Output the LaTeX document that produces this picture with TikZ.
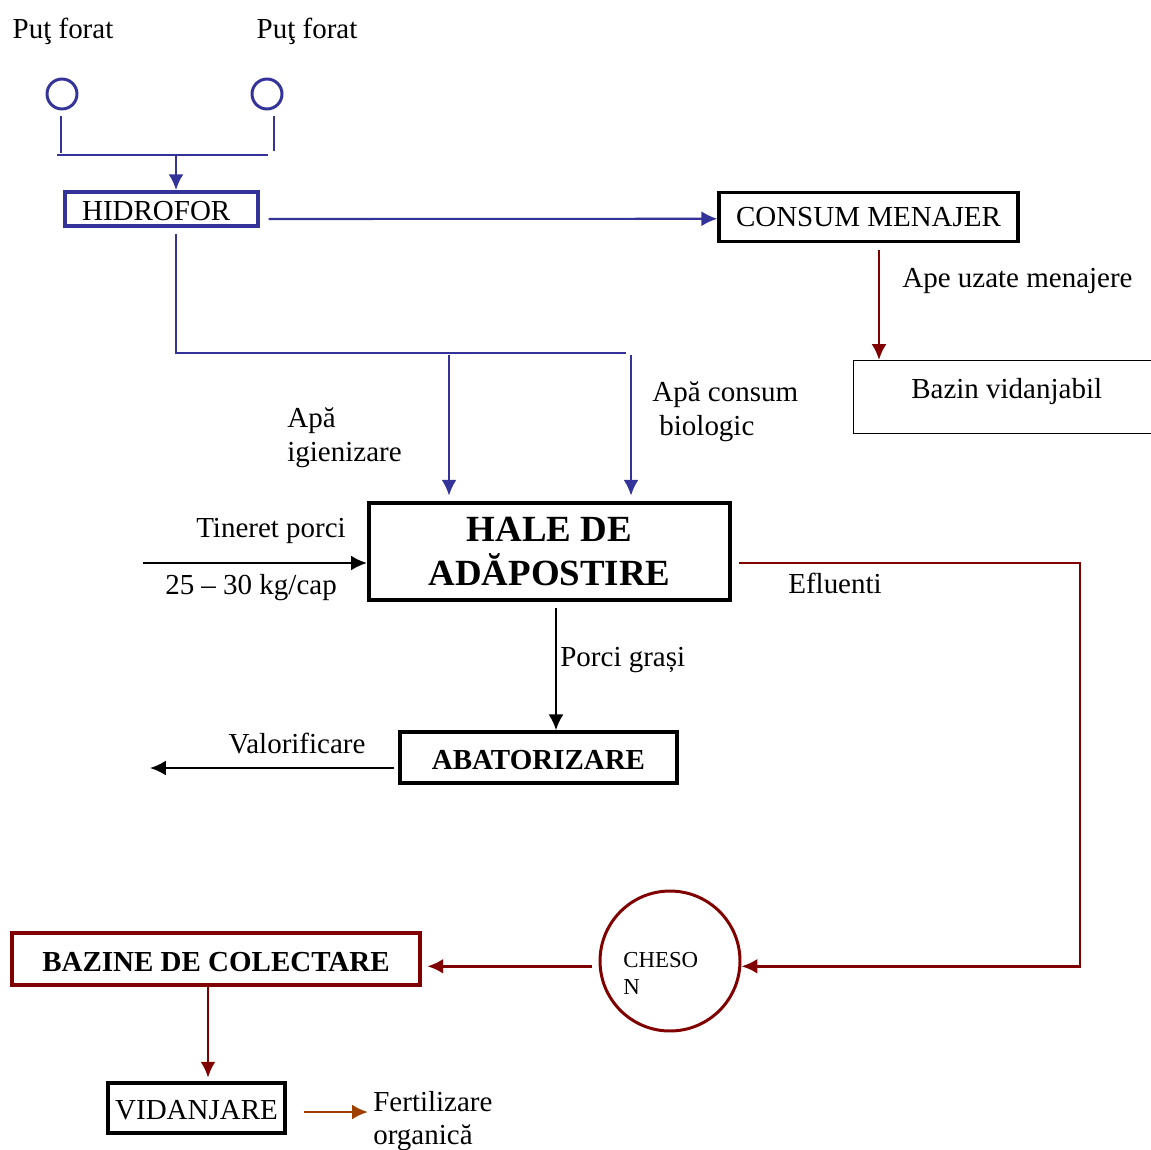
\documentclass[tikz,border=0pt]{standalone}
\usepackage{fontspec}
\setmainfont{Liberation Serif}
\usetikzlibrary{arrows.meta,positioning}
\definecolor{albastru}{RGB}{51,51,153}
\definecolor{rosu}{RGB}{128,0,0}
\definecolor{maro}{RGB}{160,64,0}
\tikzset{
  text16/.style={font=\fontsize{16.5}{19}\selectfont, inner sep=0pt, yshift=-1.7pt},
  cutie/.style={draw, line width=2pt, inner sep=0pt, font=\fontsize{16.5}{19}\selectfont},
  cutiebold/.style={cutie, font=\fontsize{16.5}{19}\selectfont\bfseries},
  put/.style={circle, draw=albastru, line width=1.7pt, minimum size=0.6cm, inner sep=0pt},
  teava/.style={albastru, line width=1.2pt},
  flux/.style={line width=1.3pt},
  fluxrosu/.style={rosu, line width=1.6pt},
}
\begin{document}
\begin{tikzpicture}[x=0.02cm, y=-0.02cm, >={Latex[length=9pt,width=8.5pt]}]
\useasboundingbox (0,0) rectangle (1151,1149);

% alimentare cu apa
\node[text16] (put1) at (63,28) {Puţ forat};
\node[text16] (put2) at (307,28) {Puţ forat};
\node[put] (c1) at (62,94) {};
\node[put] (c2) at (267,94) {};
\coordinate (colst) at (57,155);
\coordinate (coldr) at (268,155);
\coordinate (colm) at (176,155);
\draw[teava, line width=1.7pt] (c1.south) ++(-1,6) -- ++(0,37);
\draw[teava, line width=1.7pt] (c2.south) ++(7,6) -- ++(0,35);
\draw[teava, line width=1.7pt] (colst) -- (coldr);

\node[cutie, draw=albastru, minimum width=3.86cm, minimum height=0.68cm] (hidrofor) at (161.5,209) {\hspace*{-6pt}\raisebox{-1pt}[\height][\depth]{HIDROFOR}};
\draw[teava, line width=1.7pt, ->] (colm) -- (colm |- hidrofor.north);

\node[cutie, minimum width=5.98cm, minimum height=0.98cm] (consum) at (868.5,217) {CONSUM MENAJER};
\draw[teava, ->] (hidrofor.east |- consum.west) ++(9,2) -- ([yshift=-1pt]consum.west);

\node[draw, line width=0.8pt, anchor=north west, minimum width=6.12cm, inner sep=0pt,
      text height=21.5pt, text depth=19.8pt, font=\fontsize{16.5}{19}\selectfont] (bazin) at (853,360) {Bazin vidanjabil};
\coordinate (uzate) at (879,250);
\draw[fluxrosu, ->] (uzate) -- (uzate |- bazin.north);
\node[text16, anchor=west] (apeuz) at (902,278) {Ape uzate menajere};

% distributie
\coordinate (dist) at (176,353);
\coordinate (distend) at (626,353);
\draw[teava] (colm |- hidrofor.south) ++(0,6) -- (dist) -- (distend);

\node[cutie, line width=2.4pt, minimum width=7.22cm, minimum height=1.94cm, align=center,
      font=\fontsize{21}{24.5}\selectfont\bfseries] (hale) at (549.5,551.5) {HALE DE\\ADĂPOSTIRE};
\coordinate (ig) at (449,355);
\coordinate (bio) at (631,355);
\draw[teava, ->, shorten >=3pt] (ig) -- (ig |- hale.north);
\draw[teava, ->, shorten >=3pt] (bio) -- (bio |- hale.north);
\node[text16, align=left, anchor=west, font=\fontsize{16.5}{19.3}\selectfont] (igien) at (287,435) {Apă\\igienizare};
\node[text16, align=left, anchor=west, font=\fontsize{16.5}{19.3}\selectfont] (biolog) at (652,409) {Apă consum\\\hspace*{4pt}biologic};

% intrare porci
\coordinate (tin) at (143,563);
\draw[flux, ->] (tin) -- (tin -| hale.west);
\node[text16] (tineret) at (271,528) {Tineret porci};
\node[text16] (greutate) at (251,585) {25 – 30 kg/cap};

% abatorizare
\node[cutiebold, minimum width=5.54cm, minimum height=1.02cm] (abator) at (538.5,757.5) {\raisebox{-1.7pt}[\height][\depth]{ABATORIZARE}};
\coordinate (pg) at (556,608);
\draw[flux, ->] (pg) -- (pg |- abator.north);
\node[text16, anchor=west] (grasi) at (560,657) {Porci grași};
\coordinate (valend) at (150,768);
\draw[flux, ->] (abator.west |- valend) ++(-4,0) -- (valend);
\node[text16] (valor) at (297,741) {Valorificare};

% efluenti
\node[circle, draw=rosu, line width=1.7pt, minimum size=2.8cm, inner sep=0pt] (cheson) at (670,961) {};
\node[inner sep=0pt, align=left, anchor=north west, font=\fontsize{13}{15.5}\selectfont] (chesontxt) at (623,952) {CHESO\\N};
\coordinate (efl) at (1080,563);
\draw[fluxrosu, ->] (hale.east |- tin) ++(7,0) -- (efl) |- ([yshift=-3pt]cheson.east);
\node[text16] (efluenti) at (835,580) {Efluenti};

\node[cutiebold, draw=rosu, line width=2.4pt, minimum width=8.16cm, minimum height=1.04cm] (bazine) at (216,959) {\raisebox{-1.5pt}[\height][\depth]{BAZINE DE COLECTARE}};
\draw[fluxrosu, ->] ([yshift=-3pt]cheson.west) ++(-7,0) -- ([xshift=3pt,yshift=-3pt]cheson.west -| bazine.east);

\node[cutie, minimum width=3.54cm, minimum height=1cm] (vidanjare) at (196.5,1108) {\raisebox{-1pt}[\height][\depth]{VIDANJARE}};
\coordinate (bv) at (208,985);
\draw[fluxrosu, ->, shorten >=2pt] (bv) -- (bv |- vidanjare.north);

\node[text16, align=left, anchor=west, font=\fontsize{16.5}{18.7}\selectfont] (fert) at (373,1118) {Fertilizare\\organică};
\coordinate (fa) at (368,1112);
\draw[maro, line width=1.6pt, ->] (vidanjare.east |- fa) ++(17,0) -- (fa);
\end{tikzpicture}
\end{document}
